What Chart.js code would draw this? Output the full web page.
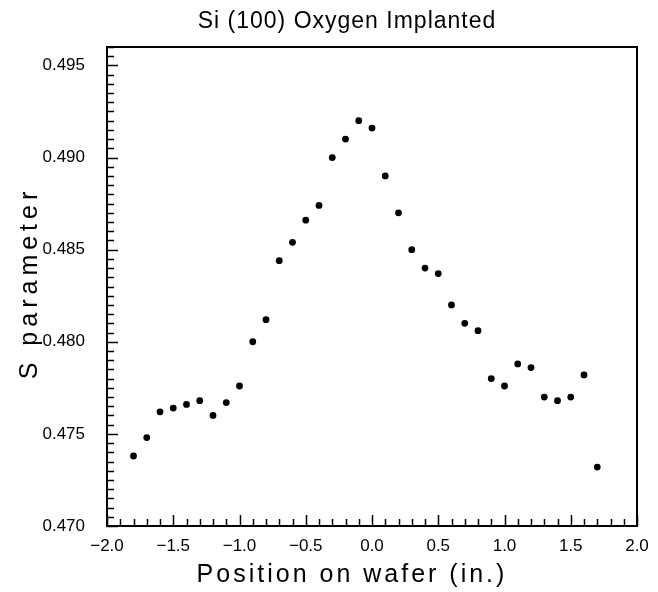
<!DOCTYPE html>
<html>
<head>
<meta charset="utf-8">
<script src="https://cdn.jsdelivr.net/npm/chart.js@4.4.0/dist/chart.umd.min.js"></script>
<style>
  body { margin: 0; background: #fff; }
  canvas { display: block; }
</style>
</head>
<body>
<canvas id="sChart" width="658" height="592"></canvas>
<script>
// position on wafer (in.)
const positions = [
  -1.8, -1.7, -1.6, -1.5, -1.4, -1.3, -1.2, -1.1, -1.0, -0.9, -0.8, -0.7,
  -0.6, -0.5, -0.4, -0.3, -0.2, -0.1, 0.0, 0.1, 0.2, 0.3, 0.4, 0.5,
  0.6, 0.7, 0.8, 0.9, 1.0, 1.1, 1.2, 1.3, 1.4, 1.5, 1.6, 1.7
];
// S parameter
const sValues = [
  0.4738, 0.4748, 0.4762, 0.4764, 0.4766, 0.4768, 0.4760, 0.4767, 0.4776, 0.4800, 0.4812, 0.4844,
  0.4854, 0.4866, 0.4874, 0.4900, 0.4910, 0.4920, 0.4916, 0.4890, 0.4870, 0.4850, 0.4840, 0.4837,
  0.4820, 0.4810, 0.4806, 0.4780, 0.4776, 0.4788, 0.4786, 0.4770, 0.4768, 0.4770, 0.4782, 0.4732
];
const xTickValues = [-2.0, -1.5, -1.0, -0.5, 0.0, 0.5, 1.0, 1.5, 2.0];
const xTickLabels = ["\u22122.0", "\u22121.5", "\u22121.0", "\u22120.5", "0.0", "0.5", "1.0", "1.5", "2.0"];
const yTickValues = [0.470, 0.475, 0.480, 0.485, 0.490, 0.495];
const yTickLabels = ["0.470", "0.475", "0.480", "0.485", "0.490", "0.495"];

const chartTitle = "Si (100) Oxygen Implanted";
const xTitle = "Position on wafer (in.)";
const yTitle = "S parameter";

const font = '"Liberation Sans", Arial, Helvetica, sans-serif';

const near = (a, b) => Math.abs(a - b) < 1e-7;

const labelFor = (vals, labels) => (v) => {
  const i = vals.findIndex((t) => near(t, v));
  return i >= 0 ? labels[i] : "";
};

const isMajor = (v, vals) => vals.some((t) => near(t, v));

// box + inward ticks + titles
const frameTicks = {
  id: "frameTicks",
  afterDatasetsDraw(chart) {
    const { ctx, chartArea: a, scales } = chart;
    ctx.save();
    ctx.strokeStyle = "#000";
    ctx.lineWidth = 2;
    ctx.strokeRect(a.left, a.top, a.right - a.left, a.bottom - a.top);
    ctx.lineWidth = 1.5;
    ctx.beginPath();
    scales.x.ticks.forEach((t) => {
      const px = Math.round(scales.x.getPixelForValue(t.value)) + 0.5;
      const len = isMajor(t.value, xTickValues) ? 11 : 7;
      ctx.moveTo(px, a.bottom);
      ctx.lineTo(px, a.bottom - len);
    });
    scales.y.ticks.forEach((t) => {
      const py = Math.round(scales.y.getPixelForValue(t.value)) + 0.5;
      const len = isMajor(t.value, yTickValues) ? 11 : 7;
      ctx.moveTo(a.left, py);
      ctx.lineTo(a.left + len, py);
    });
    ctx.stroke();
    ctx.restore();
  },
  afterDraw(chart) {
    const { ctx } = chart;
    ctx.save();
    ctx.fillStyle = "#000";
    ctx.textAlign = "center";
    ctx.textBaseline = "alphabetic";
    ctx.font = "23px " + font;
    ctx.letterSpacing = "1px";
    ctx.fillText(chartTitle, 347, 28);
    ctx.font = "25px " + font;
    ctx.letterSpacing = "3px";
    ctx.fillText(xTitle, 352, 582);
    ctx.translate(37, 283);
    ctx.rotate(-Math.PI / 2);
    ctx.letterSpacing = "5px";
    ctx.fillText(yTitle, 0, 0);
    ctx.restore();
  },
};

new Chart(document.getElementById("sChart"), {
  type: "scatter",
  data: {
    datasets: [
      {
        data: positions.map((x, i) => ({ x: x, y: sValues[i] })),
        backgroundColor: "#000",
        borderColor: "#000",
        borderWidth: 0,
        pointRadius: 3.4,
        pointHoverRadius: 3.4,
      },
    ],
  },
  options: {
    responsive: false,
    animation: false,
    devicePixelRatio: 1,
    layout: { padding: { top: 47, right: 21, left: 0, bottom: 0 } },
    plugins: {
      legend: { display: false },
      title: { display: false },
      tooltip: { enabled: false },
    },
    scales: {
      x: {
        type: "linear",
        min: -2,
        max: 2,
        grid: { display: false },
        border: { display: false },
        ticks: {
          stepSize: 0.1,
          autoSkip: false,
          maxRotation: 0,
          padding: 2,
          color: "#000",
          font: { family: font, size: 17 },
          callback: labelFor(xTickValues, xTickLabels),
        },
        afterFit: (s) => {
          s.height = 66;
        },
      },
      y: {
        type: "linear",
        min: 0.47,
        max: 0.496,
        grid: { display: false },
        border: { display: false },
        ticks: {
          stepSize: 0.0005,
          autoSkip: false,
          padding: 14,
          color: "#000",
          font: { family: font, size: 17 },
          callback: labelFor(yTickValues, yTickLabels),
        },
        afterFit: (s) => {
          s.width = 107;
        },
      },
    },
  },
  plugins: [frameTicks],
});
</script>
</body>
</html>
